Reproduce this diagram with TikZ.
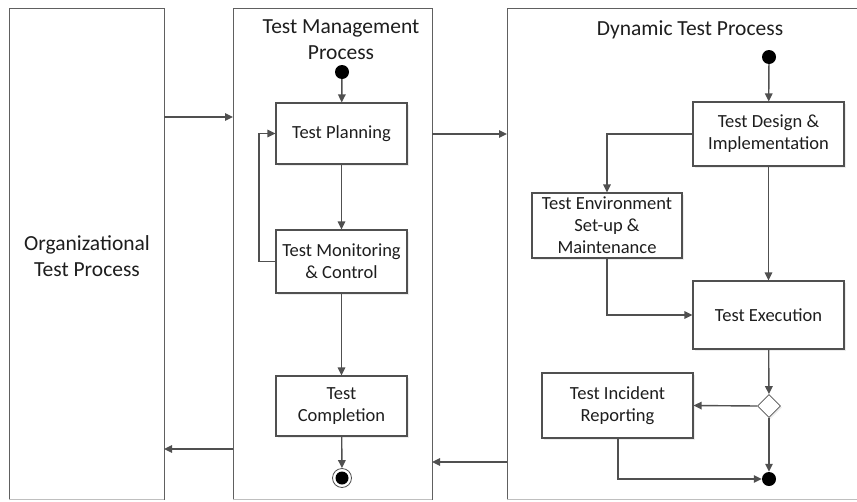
\documentclass[tikz,border=0pt]{standalone}
\usepackage{fontspec}
\setmainfont{Carlito}
\usetikzlibrary{arrows.meta,shapes.geometric,calc,shadows}

\definecolor{linegray}{HTML}{505050}
\definecolor{lanegray}{HTML}{606060}
\definecolor{textgray}{HTML}{1E1E1E}

\tikzset{
  lane/.style={draw=lanegray, line width=1pt},
  proc/.style={draw=linegray, line width=1.1pt, fill=white, inner sep=0pt,
    align=center, text=textgray, font=\fontsize{18.5}{22}\selectfont,
    drop shadow={opacity=0.15, shadow xshift=1.5pt, shadow yshift=-1.5pt}},
  flow/.style={draw=linegray, line width=1.4pt,
    -{Triangle[length=8pt,width=7.5pt]}},
  startdot/.style={circle, fill=black, inner sep=0pt, minimum size=14pt},
  lanetitle/.style={text=textgray, align=center, font=\fontsize{21.5}{26}\selectfont},
}

\begin{document}
\begin{tikzpicture}[x=1pt, y=-1pt]
  \useasboundingbox (0,0) rectangle (857,501);
  \fill[white] (0,0) rectangle (857,501);

  % swimlanes
  \draw[lane] (9,500) -- (9,8) -- (164,8) -- (164,500);
  \draw[lane] (233,500) -- (233,8) -- (432,8) -- (432,500);
  \draw[lane] (507,500) -- (507,8) -- (858,8);
  \draw[draw=lanegray!40, line width=0.8pt] (9,499) -- (164,499) (233,499) -- (432,499) (507,499) -- (858,499);

  \node[lanetitle] (orgtitle) at (87,256) {Organizational\\Test Process};
  \node[lanetitle] (mgmttitle) at (341,40) {Test Management\\Process};
  \node[lanetitle] (dyntitle) at (690,30) {Dynamic Test Process};

  % lane boundary anchors for the cross-lane flows
  \coordinate (orgR1) at (164,117);
  \coordinate (mgmtL1) at (233,117);
  \coordinate (mgmtR1) at (432,134);
  \coordinate (dynL1) at (507,134);
  \coordinate (dynL2) at (507,462);
  \coordinate (mgmtR2) at (432,462);
  \coordinate (mgmtL2) at (233,449);
  \coordinate (orgR2) at (164,449);

  % Test Management Process
  \node[startdot] (mstart) at (342,72) {};
  \node[proc, minimum width=131pt, minimum height=61pt] (plan) at (341.5,133.5) {Test Planning};
  \node[proc, minimum width=131pt, minimum height=63pt] (monitor) at (341.5,261.5) {Test Monitoring\\\& Control};
  \node[proc, minimum width=131pt, minimum height=60pt] (complete) at (341.5,406) {Test\\Completion};
  \node[circle, draw=linegray, line width=0.8pt, fill=white, minimum size=19pt, inner sep=0pt] (mend) at (342,478) {};
  \node[circle, fill=black, minimum size=13pt, inner sep=0pt] (mendin) at (342,478) {};

  \draw[flow] (mstart) -- (plan);
  \draw[flow] (plan) -- (monitor);
  \draw[flow] (monitor) -- (complete);
  \draw[flow] (complete) -- (mend);
  \draw[flow] (monitor.west) -- (259,261.5) -- (259,133.5) -- (plan.west);

  % Dynamic Test Process
  \node[startdot] (dstart) at (769,57) {};
  \node[proc, minimum width=151pt, minimum height=64pt] (design) at (768.5,134) {Test Design \&\\Implementation};
  \node[proc, minimum width=150pt, minimum height=65pt] (env) at (607,225.5) {Test Environment\\Set-up \&\\Maintenance};
  \node[proc, minimum width=151pt, minimum height=68pt] (exec) at (768.5,315) {Test Execution};
  \node[diamond, draw=linegray, line width=0.8pt, fill=white, minimum width=23pt, minimum height=23pt, inner sep=0pt,
    drop shadow={opacity=0.15, shadow xshift=1.5pt, shadow yshift=-1.5pt}] (dec) at (769,406) {};
  \node[proc, minimum width=151pt, minimum height=65pt] (incident) at (617.5,405.5) {Test Incident\\Reporting};
  \node[startdot] (dend) at (769,479) {};

  \draw[flow] (dstart) -- (design);
  \draw[flow] (design.west) -- (607,134) -- (env.north);
  \draw[flow] (design) -- (exec);
  \draw[flow] (env.south) -- (607,315) -- (exec.west);
  \draw[flow] (exec) -- (dec);
  \draw[flow] (dec.west) -- (incident.east);
  \draw[flow] (dec) -- (dend);
  \draw[flow] (incident.south -| 618,0) -- (618,479) -- (dend.west);

  % flows between the processes
  \draw[flow] (orgR1) -- (mgmtL1);
  \draw[flow] (mgmtR1) -- (dynL1);
  \draw[flow] (dynL2) -- (mgmtR2);
  \draw[flow] (mgmtL2) -- (orgR2);
\end{tikzpicture}
\end{document}
